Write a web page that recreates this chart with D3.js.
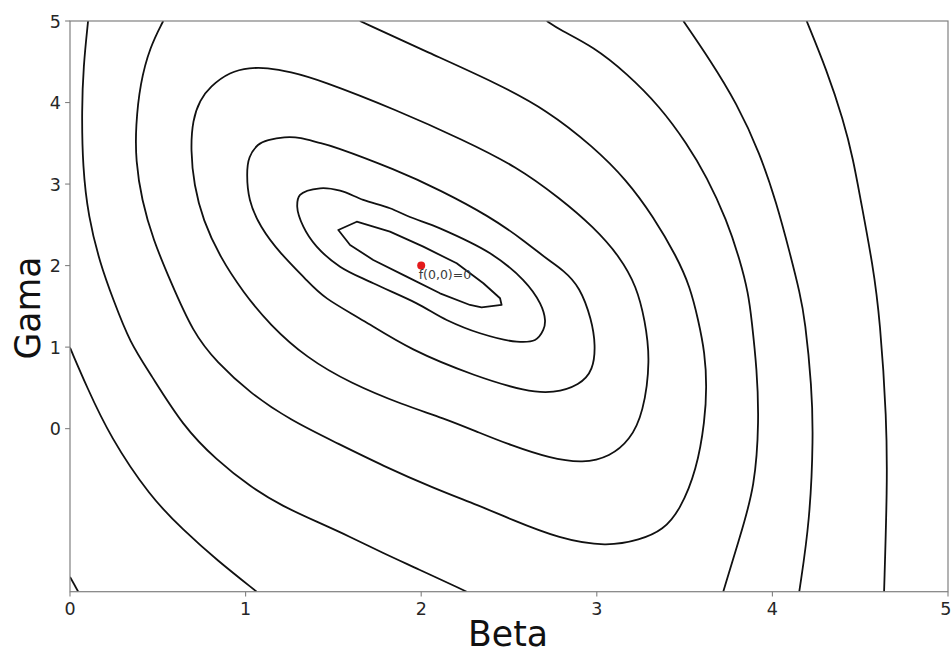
<!DOCTYPE html>
<html>
<head>
<meta charset="utf-8">
<script src="https://cdn.jsdelivr.net/npm/d3@7"></script>
<style>
  body { margin: 0; background: #ffffff; }
  svg { display: block; }
</style>
</head>
<body>
<svg id="chart" width="952" height="655"></svg>
<script>
// Axis extents and ticks
const betaDomain = [0, 5];
const gamaDomain = [-2, 5];
const betaTicks = [0, 1, 2, 3, 4, 5];
const gamaTicks = [0, 1, 2, 3, 4, 5];

// Marked minimum
const minPoint = [2, 2];
const minLabel = "f(0,0)=0";

// Level curves, each as [beta, gama] vertices
const cornerLine = [[0, -1.82], [0.047, -2]];

const edgeLine = [[0, 0.993], [0.095, 0.515], [0.228, -0.099], [0.456, -0.835],
  [0.645, -1.243], [0.835, -1.611], [1.063, -2]];

const sweepLine = [[0.103, 5], [0.076, 4.439], [0.067, 3.908], [0.072, 3.213],
  [0.104, 2.600], [0.171, 2.028], [0.247, 1.578], [0.342, 1.051], [0.456, 0.679],
  [0.645, 0.024], [0.835, -0.385], [1.025, -0.712], [1.215, -0.957],
  [1.405, -1.141], [1.595, -1.325], [1.784, -1.529], [1.974, -1.713], [2.259, -2]];

const uLine = [[0.531, 5], [0.456, 4.685], [0.399, 4.236], [0.374, 3.704],
  [0.374, 3.295], [0.408, 2.805], [0.474, 2.314], [0.569, 1.823], [0.702, 1.170],
  [0.835, 0.817], [1.025, 0.437], [1.253, 0.106], [1.519, -0.176], [1.784, -0.458],
  [2.069, -0.728], [2.335, -0.949], [2.506, -1.108], [2.790, -1.353],
  [3.056, -1.448], [3.246, -1.366], [3.379, -1.243], [3.474, -0.998],
  [3.569, -0.507], [3.616, 0.106], [3.626, 0.515], [3.616, 0.924], [3.578, 1.333],
  [3.531, 1.741], [3.455, 2.109], [3.322, 2.600], [3.170, 3.050], [2.980, 3.458],
  [2.715, 3.908], [2.430, 4.236], [2.050, 4.604], [1.651, 5]];

const rightLine1 = [[2.715, 5], [2.790, 4.890], [2.980, 4.685], [3.170, 4.359],
  [3.360, 3.949], [3.512, 3.500], [3.626, 3.090], [3.740, 2.559], [3.815, 2.069],
  [3.863, 1.660], [3.882, 1.333], [3.912, 0.719], [3.924, 0.106], [3.901, -0.712],
  [3.815, -1.325], [3.720, -2]];

const rightLine2 = [[3.493, 5], [3.645, 4.522], [3.797, 3.991], [3.929, 3.377],
  [4.024, 2.764], [4.100, 2.151], [4.157, 1.660], [4.186, 1.333], [4.224, 0.515],
  [4.233, -0.099], [4.214, -1.120], [4.153, -2]];

const rightLine3 = [[4.195, 5], [4.309, 4.399], [4.404, 3.786], [4.461, 3.295],
  [4.499, 2.845], [4.574, 1.987], [4.613, 1.333], [4.651, 0.106], [4.654, -0.712],
  [4.636, -2]];

const ring4 = [[1.025, 4.427], [1.120, 4.427], [1.253, 4.378], [1.424, 4.276],
  [1.860, 3.908], [2.240, 3.540], [2.544, 3.213], [2.790, 2.825], [2.980, 2.477],
  [3.132, 2.109], [3.227, 1.741], [3.274, 1.333], [3.306, 0.842], [3.265, 0.188],
  [3.189, -0.139], [3.075, -0.344], [2.923, -0.425], [2.733, -0.364],
  [2.506, -0.200], [2.335, -0.053], [2.126, 0.131], [1.898, 0.290], [1.595, 0.560],
  [1.348, 0.867], [1.139, 1.271], [0.985, 1.676], [0.854, 2.105], [0.757, 2.559],
  [0.706, 2.988], [0.687, 3.418], [0.698, 3.786], [0.740, 4.031], [0.797, 4.194],
  [0.911, 4.378]];

const ring3 = [[1.224, 3.581], [1.310, 3.574], [1.424, 3.500], [1.481, 3.479],
  [1.860, 3.172], [2.107, 2.927], [2.392, 2.600], [2.581, 2.314], [2.722, 2.069],
  [2.808, 1.946], [2.904, 1.741], [2.971, 1.333], [2.993, 1.026], [2.980, 0.719],
  [2.904, 0.535], [2.752, 0.433], [2.601, 0.454], [2.316, 0.637], [1.936, 0.965],
  [1.670, 1.333], [1.443, 1.603], [1.348, 1.823], [1.196, 2.151], [1.082, 2.477],
  [1.015, 2.805], [1.006, 3.132], [1.015, 3.336], [1.072, 3.500], [1.120, 3.540]];

const ring2 = [[1.310, 2.866], [1.424, 2.948], [1.538, 2.919], [1.670, 2.805],
  [1.822, 2.703], [1.936, 2.596], [2.107, 2.457], [2.392, 2.151], [2.581, 1.823],
  [2.677, 1.537], [2.705, 1.333], [2.695, 1.210], [2.648, 1.087], [2.544, 1.067],
  [2.335, 1.170], [2.145, 1.333], [1.974, 1.537], [1.727, 1.783], [1.538, 1.987],
  [1.405, 2.232], [1.329, 2.477], [1.294, 2.722]];

const ring1 = [[1.528, 2.437], [1.633, 2.538], [1.822, 2.416], [2.012, 2.232],
  [2.202, 2.028], [2.354, 1.783], [2.449, 1.599], [2.458, 1.517], [2.344, 1.488],
  [2.278, 1.517], [2.107, 1.660], [1.917, 1.864], [1.727, 2.069], [1.595, 2.253]];

const openCurves = [cornerLine, edgeLine, sweepLine, uLine, rightLine1, rightLine2, rightLine3];
const wideRings = [ring4, ring3];
const tightRings = [ring2];
const angularRings = [ring1];

// Layout
const W = 952, H = 655;
const plot = { left: 70, top: 21, right: 948, bottom: 591.7 };
const spineColor = "#808080";
const font = "'DejaVu Sans', 'Liberation Sans', sans-serif";

const svg = d3.select("#chart");

const x = d3.scaleLinear().domain(betaDomain).range([plot.left, plot.right]);
const y = d3.scaleLinear().domain(gamaDomain).range([plot.bottom, plot.top]);

svg.append("rect").attr("width", W).attr("height", H).attr("fill", "#fff");

svg.append("defs").append("clipPath").attr("id", "plot-clip")
  .append("rect")
  .attr("x", plot.left).attr("y", plot.top)
  .attr("width", plot.right - plot.left).attr("height", plot.bottom - plot.top);

const g = svg.append("g").attr("clip-path", "url(#plot-clip)");

const px = d => x(d[0]), py = d => y(d[1]);
const lineOpen = d3.line().x(px).y(py).curve(d3.curveBasis);
const lineWide = d3.line().x(px).y(py).curve(d3.curveBasisClosed);
const lineTight = d3.line().x(px).y(py).curve(d3.curveCatmullRomClosed.alpha(0.5));
const lineAngular = d3.line().x(px).y(py).curve(d3.curveLinearClosed);

const strokeStyle = sel => sel.attr("fill", "none").attr("stroke", "#111")
  .attr("stroke-width", 1.8).attr("stroke-linejoin", "round");

g.selectAll("path.open").data(openCurves).join("path").attr("class", "open")
  .attr("d", lineOpen).call(strokeStyle);
g.selectAll("path.wide").data(wideRings).join("path").attr("class", "wide")
  .attr("d", lineWide).call(strokeStyle);
g.selectAll("path.tight").data(tightRings).join("path").attr("class", "tight")
  .attr("d", lineTight).call(strokeStyle);
g.selectAll("path.angular").data(angularRings).join("path").attr("class", "angular")
  .attr("d", lineAngular).call(strokeStyle);

// Minimum marker and its label
g.append("circle").attr("cx", x(minPoint[0])).attr("cy", y(minPoint[1]))
  .attr("r", 4).attr("fill", "#e41a1c");
g.append("text").attr("x", x(minPoint[0]) - 2.5).attr("y", y(minPoint[1]) + 13.5)
  .attr("font-family", font).attr("font-size", 12.5).attr("fill", "#3a3a3a")
  .text(minLabel);

// Axes frame
svg.append("rect")
  .attr("x", plot.left).attr("y", plot.top)
  .attr("width", plot.right - plot.left).attr("height", plot.bottom - plot.top)
  .attr("fill", "none").attr("stroke", spineColor).attr("stroke-width", 1.2);

const tickLen = 4.9, tickFont = 17.5;

const xAxis = svg.append("g").attr("class", "x-axis");
xAxis.selectAll("line").data(betaTicks).join("line")
  .attr("x1", d => x(d)).attr("x2", d => x(d))
  .attr("y1", plot.bottom).attr("y2", plot.bottom + tickLen)
  .attr("stroke", spineColor).attr("stroke-width", 1.1);
xAxis.selectAll("text").data(betaTicks).join("text")
  .attr("x", d => x(d)).attr("y", 615)
  .attr("text-anchor", "middle")
  .attr("font-family", font).attr("font-size", tickFont).attr("fill", "#262626")
  .text(d => d)
  .each(function (d) {
    // keep the last label inside the page
    const half = this.getComputedTextLength() / 2;
    if (x(d) + half > W - 0.5) d3.select(this).attr("x", W - 0.5 - half);
  });

const yAxis = svg.append("g").attr("class", "y-axis");
yAxis.selectAll("line").data(gamaTicks).join("line")
  .attr("x1", plot.left - tickLen).attr("x2", plot.left)
  .attr("y1", d => y(d)).attr("y2", d => y(d))
  .attr("stroke", spineColor).attr("stroke-width", 1.1);
yAxis.selectAll("text").data(gamaTicks).join("text")
  .attr("x", plot.left - 9).attr("y", d => y(d) + 6.6)
  .attr("text-anchor", "end")
  .attr("font-family", font).attr("font-size", tickFont).attr("fill", "#262626")
  .text(d => d);

// Axis titles
svg.append("text").attr("x", 508).attr("y", 646)
  .attr("text-anchor", "middle")
  .attr("font-family", font).attr("font-size", 34.7).attr("fill", "#111")
  .text("Beta");

svg.append("text")
  .attr("transform", "translate(39.5,308) rotate(-90)")
  .attr("text-anchor", "middle")
  .attr("font-family", font).attr("font-size", 34.7).attr("fill", "#111")
  .text("Gama");
</script>
</body>
</html>
